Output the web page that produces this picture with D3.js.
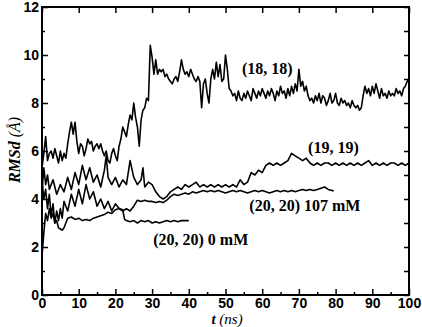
<!DOCTYPE html>
<html lang="en">
<head>
    <meta charset="UTF-8">
    <title>RMSd vs time</title>
    <script src="https://d3js.org/d3.v7.min.js"></script>
    <style>
        body { margin: 0; background: #fff; }
        .tick-label { font-family: "Liberation Sans", Arial, sans-serif; font-weight: bold; font-size: 14px; }
        .axis-title { font-family: "Liberation Serif", "Times New Roman", serif; font-style: italic; font-size: 15px; }
        .note { font-family: "Liberation Serif", "Times New Roman", serif; font-weight: bold; font-size: 16px; }
    </style>
</head>
<body>
    <svg id="chart" width="422" height="327"></svg>

    <script>
        // tick values
        const xTicks = [0, 10, 20, 30, 40, 50, 60, 70, 80, 90, 100];
        const yTicks = [0, 2, 4, 6, 8, 10, 12];

        // (18, 18) run, [t (ns), RMSd]
        const run1818 = [
            [0,5.3],[0.5,5.9],[1,6.6],[1.5,5.6],[2,5.9],[2.5,6.0],[3,5.7],[3.5,6.1],[4,5.8],[4.5,5.5],
            [5,6.0],[5.5,5.6],[6,5.9],[6.5,5.7],[7,6.3],[7.5,6.8],[8,7.2],[8.5,6.7],[9,7.2],[9.5,6.4],
            [10,5.9],[10.5,6.3],[11,6.2],[11.5,5.8],[12,6.1],[12.5,6.5],[13,6.3],[13.5,6.4],[14,6.0],[14.5,6.2],
            [15,6.3],[15.5,6.1],[16,6.3],[16.5,6.0],[17,5.8],[17.5,6.0],[18,5.6],[18.5,5.5],[19,5.9],[19.5,6.1],
            [20,5.8],[20.5,5.6],[21,6.2],[21.5,6.5],[22,7.0],[22.5,6.8],[23,6.6],[23.5,7.1],[24,7.5],[24.5,7.3],
            [25,8.0],[25.5,7.4],[26,7.0],[26.5,6.2],[27,7.3],[27.5,7.7],[28,7.8],[28.5,8.2],[29,8.1],[29.5,10.4],
            [30,9.9],[30.5,9.2],[31,9.8],[31.5,9.2],[32,9.4],[32.5,9.3],[33,9.4],[33.5,9.1],[34,9.2],[34.5,9.0],
            [35,8.9],[35.5,8.8],[36,9.0],[36.5,9.1],[37,8.9],[37.5,9.3],[38,9.8],[38.5,9.4],[39,9.2],[39.5,9.3],
            [40,9.1],[40.5,9.4],[41,9.2],[41.5,9.0],[42,8.9],[42.5,9.1],[43,8.9],[43.5,7.8],[44,8.8],[44.5,9.0],
            [45,8.4],[45.5,8.0],[46,9.0],[46.5,9.4],[47,9.0],[47.5,9.7],[48,9.1],[48.5,9.6],[49,8.9],[49.5,9.0],
            [50,10.0],[50.5,9.4],[51,8.6],[51.5,8.5],[52,8.3],[52.5,8.4],[53,8.1],[53.5,8.5],[54,8.2],[54.5,8.1],
            [55,8.4],[55.5,8.2],[56,8.5],[56.5,8.3],[57,8.1],[57.5,8.6],[58,8.4],[58.5,8.2],[59,8.5],[59.5,8.3],
            [60,8.6],[60.5,8.4],[61,8.2],[61.5,8.5],[62,8.3],[62.5,8.6],[63,8.4],[63.5,8.1],[64,8.5],[64.5,8.3],
            [65,8.7],[65.5,8.4],[66,8.5],[66.5,8.2],[67,8.6],[67.5,8.3],[68,8.7],[68.5,8.4],[69,8.8],[69.5,8.5],
            [70,9.4],[70.5,8.7],[71,8.9],[71.5,8.5],[72,8.7],[72.5,8.3],[73,8.1],[73.5,8.2],[74,8.0],[74.5,8.3],
            [75,8.1],[75.5,8.4],[76,8.0],[76.5,8.3],[77,8.2],[77.5,7.9],[78,8.1],[78.5,8.4],[79,8.0],[79.5,8.1],
            [80,8.4],[80.5,8.0],[81,7.9],[81.5,8.2],[82,8.0],[82.5,8.1],[83,7.9],[83.5,8.0],[84,7.8],[84.5,8.1],
            [85,7.9],[85.5,7.8],[86,7.9],[86.5,7.7],[87,7.8],[87.5,8.3],[88,8.7],[88.5,8.4],[89,8.6],[89.5,8.3],
            [90,8.7],[90.5,8.4],[91,8.8],[91.5,8.5],[92,8.2],[92.5,8.6],[93,8.3],[93.5,8.4],[94,8.2],[94.5,8.5],
            [95,8.3],[95.5,8.4],[96,8.3],[96.5,8.6],[97,8.4],[97.5,8.5],[98,8.3],[98.5,8.6],[99,8.7],[99.5,8.9],
            [100,9.0]
        ];

        // (19, 19) run
        const run1919 = [
            [0,4.3],[0.5,5.3],[1,4.6],[1.5,5.0],[2,4.4],[3,4.8],[4,4.2],[5,4.6],[6,4.3],[7,4.9],
            [8,4.4],[9,5.1],[10,4.6],[11,5.4],[12,4.8],[13,5.3],[14,4.7],[15,5.0],[16,4.5],[17,5.2],
            [17.5,5.8],[18,4.9],[19,4.6],[20,4.9],[21,4.5],[22,4.8],[23,4.6],[24,5.6],[25,4.9],[26,4.6],
            [27,4.8],[27.5,5.3],[28,4.5],[29,4.7],[30,4.6],[31,4.3],[32,4.1],[33,4.0],[34,4.1],[35,4.3],
            [36,4.4],[37,4.5],[38,4.4],[39,4.6],[40,4.5],[41,4.6],[42,4.7],[43,4.5],[44,4.6],[45,4.5],
            [46,4.6],[47,4.5],[48,4.6],[49,4.5],[50,4.6],[51,4.5],[52,4.6],[53,4.5],[54,4.8],[55,4.6],
            [56,4.7],[57,5.1],[58,5.0],[59,5.2],[60,5.1],[61,5.4],[62,5.5],[63,5.4],[64,5.5],[65,5.4],
            [66,5.5],[67,5.6],[68,5.9],[69,5.8],[70,5.7],[71,5.6],[72,5.7],[73,5.5],[74,5.4],[75,5.5],
            [76,5.4],[77,5.5],[78,5.5],[79,5.4],[80,5.5],[81,5.4],[82,5.5],[83,5.4],[84,5.5],[85,5.4],
            [86,5.5],[87,5.4],[88,5.5],[89,5.6],[90,5.4],[91,5.5],[92,5.4],[93,5.5],[94,5.4],[95,5.5],
            [96,5.5],[97,5.4],[98,5.5],[99,5.4],[100,5.5]
        ];

        // (20, 20) 107 mM run
        const run2020salt = [
            [0,4.8],[0.5,4.0],[1,4.4],[1.5,3.6],[2,4.2],[2.5,3.3],[3,3.8],[3.5,3.0],[4,3.5],[4.5,3.1],
            [5,3.6],[5.5,3.2],[6,3.9],[7,3.5],[8,4.2],[9,3.7],[10,4.4],[11,3.8],[12,4.6],[13,4.0],
            [14,4.3],[15,3.7],[16,4.0],[17,3.6],[18,3.9],[19,3.5],[20,3.8],[21,3.6],[22,3.5],[23,3.6],
            [24,3.5],[25,3.7],[26,3.95],[27,3.9],[28,3.95],[29,3.9],[30,3.9],[31,3.85],[32,3.9],[33,3.85],
            [34,3.95],[35,4.1],[36,4.2],[37,4.15],[38,4.2],[39,4.25],[40,4.2],[41,4.3],[42,4.25],[43,4.3],
            [44,4.35],[45,4.3],[46,4.35],[47,4.3],[48,4.35],[49,4.3],[50,4.25],[51,4.3],[52,4.35],[53,4.3],
            [54,4.35],[55,4.3],[56,4.25],[57,4.3],[58,4.35],[59,4.3],[60,4.35],[61,4.3],[62,4.25],[63,4.3],
            [64,4.35],[65,4.3],[66,4.35],[67,4.3],[68,4.35],[69,4.3],[70,4.35],[71,4.4],[72,4.35],[73,4.4],
            [74,4.35],[75,4.4],[76,4.45],[77,4.5],[78,4.4],[79,4.35],[79.5,4.35]
        ];

        // (20, 20) 0 mM run
        const run2020noSalt = [
            [0,1.6],[0.5,2.6],[1,3.4],[1.5,3.1],[2,3.6],[2.5,3.2],[3,3.4],[3.5,3.0],[4,3.1],[4.5,2.8],
            [5,2.75],[5.5,2.7],[6,2.8],[6.5,3.0],[7,3.2],[8,3.25],[9,3.15],[10,3.2],[11,3.1],[12,3.15],
            [13,3.1],[14,3.2],[15,3.25],[16,3.3],[17,3.35],[18,3.45],[19,3.4],[20,3.55],[21,3.6],[22,3.55],
            [22.5,3.15],[23,3.1],[24,3.05],[25,3.1],[26,3.0],[27,3.1],[28,3.05],[29,3.1],[30,3.0],[31,3.05],
            [32,3.0],[33,3.05],[34,3.1],[35,3.05],[36,3.1],[37,3.05],[38,3.1],[39,3.1],[40,3.1]
        ];

        const runs = [run1818, run1919, run2020salt, run2020noSalt];

        // annotation texts with their anchor in data units
        const notes = [
            { text: "(18, 18)", t: 54.5, v: 9.2 },
            { text: "(19, 19)", t: 72.5, v: 5.9 },
            { text: "(20, 20) 107 mM", t: 56.5, v: 3.5 },
            { text: "(20, 20) 0 mM", t: 30.3, v: 2.1 }
        ];

        const svg = d3.select("#chart");
        const padL = 42, padR = 409, padT = 7, padB = 295;

        const x = d3.scaleLinear().domain([0, 100]).range([padL, padR]);
        const y = d3.scaleLinear().domain([0, 12]).range([padB, padT]);

        // data lines
        const line = d3.line().x(d => x(d[0])).y(d => y(d[1]));
        svg.append("g")
            .selectAll("path")
            .data(runs)
            .enter().append("path")
            .attr("d", line)
            .attr("fill", "none")
            .attr("stroke", "black")
            .attr("stroke-width", 1.6)
            .attr("stroke-linejoin", "round");

        // axes with inward ticks
        const bottomAxis = d3.axisBottom(x).tickValues(xTicks).tickSize(-6).tickPadding(3).tickFormat(d3.format("d"));
        const bottomMinor = d3.axisBottom(x).tickValues(d3.range(5, 100, 10)).tickSize(-3).tickFormat("");
        const topAxis = d3.axisTop(x).tickValues(xTicks).tickSize(-6).tickFormat("");
        const leftAxis = d3.axisLeft(y).tickValues(yTicks).tickSize(-6).tickPadding(3).tickFormat(d3.format("d"));
        const leftMinor = d3.axisLeft(y).tickValues(d3.range(1, 12, 2)).tickSize(-3).tickFormat("");
        const rightAxis = d3.axisRight(y).tickValues(d3.range(0, 13, 1)).tickSize(-5).tickFormat("");

        const addAxis = (axis, tx, ty) => {
            const g = svg.append("g").attr("transform", `translate(${tx},${ty})`).call(axis);
            g.select(".domain").remove();
            g.selectAll(".tick line").attr("stroke", "black").attr("stroke-width", 1.5);
            g.selectAll(".tick text").attr("class", "tick-label").attr("fill", "black");
            return g;
        };
        addAxis(bottomAxis, 0, padB);
        addAxis(bottomMinor, 0, padB);
        addAxis(topAxis, 0, padT);
        addAxis(leftAxis, padL, 0);
        addAxis(leftMinor, padL, 0);
        addAxis(rightAxis, padR, 0);

        // frame
        svg.append("rect")
            .attr("x", padL).attr("y", padT)
            .attr("width", padR - padL).attr("height", padB - padT)
            .attr("fill", "none").attr("stroke", "black").attr("stroke-width", 2);

        // axis titles
        svg.append("text")
            .attr("class", "axis-title")
            .attr("x", 227).attr("y", 324)
            .attr("text-anchor", "middle")
            .html('<tspan font-weight="bold">t</tspan> (ns)');

        svg.append("text")
            .attr("class", "axis-title")
            .attr("transform", `translate(20,150) rotate(-90)`)
            .attr("text-anchor", "middle")
            .style("font-size", "16px")
            .html('<tspan font-weight="bold">RMSd</tspan> (Å)');

        // annotations
        svg.append("g")
            .selectAll("text")
            .data(notes)
            .enter().append("text")
            .attr("class", "note")
            .attr("x", d => x(d.t))
            .attr("y", d => y(d.v))
            .attr("text-anchor", "start")
            .text(d => d.text);
    </script>
</body>
</html>
